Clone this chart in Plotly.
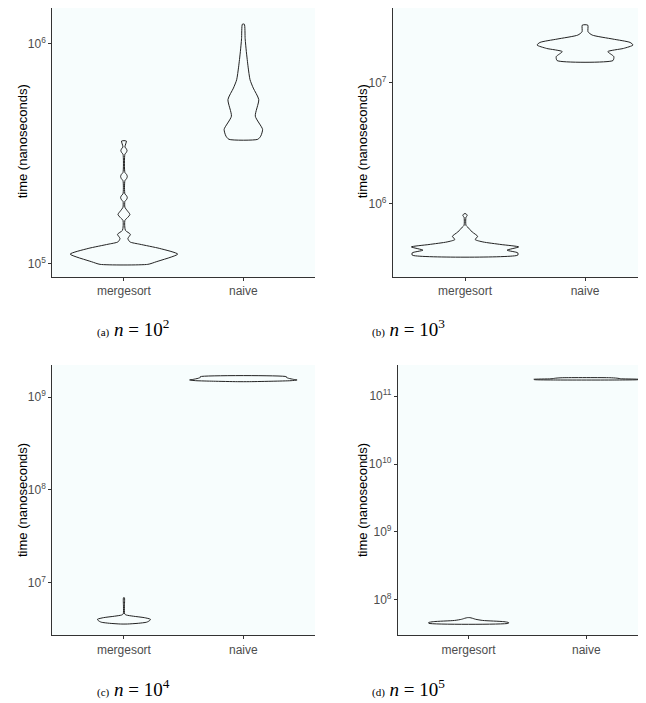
import plotly.graph_objects as go

# ---------------- data ----------------
categories = ["mergesort", "naive"]

# violin outlines: time levels (ns) and half-widths (category units)
a_merge_t = [99000, 101700, 110200, 116900, 122200, 125200, 129700, 135600, 141400,
             156800, 161500, 166900, 173000, 180000,
             191600, 195000, 199200, 203000, 207000,
             237600, 242900, 248500, 253700, 259000,
             313600, 319500, 325600, 331800, 338200, 360000]
a_merge_w = [0.20, 0.27, 0.45, 0.30, 0.133, 0.05, 0.033, 0.054, 0.012,
             0.008, 0.03, 0.05, 0.03, 0.008,
             0.008, 0.022, 0.028, 0.022, 0.008,
             0.008, 0.022, 0.028, 0.022, 0.008,
             0.008, 0.02, 0.026, 0.02, 0.008, 0.02]
a_naive_t = [366500, 379300, 406700, 467000, 555400, 626600, 683600, 780000, 917600, 1050000, 1223000]
a_naive_w = [0.121, 0.146, 0.161, 0.10, 0.129, 0.083, 0.056, 0.04, 0.025, 0.015, 0.008]

b_merge_t = [377900, 394700, 415100, 441700, 462200, 485300, 507700, 540400, 586000,
             643600, 664500, 777000, 790000, 802200, 815000, 828300]
b_merge_w = [0.44, 0.44, 0.35, 0.447, 0.30, 0.15, 0.085, 0.105, 0.06,
             0.022, 0.008, 0.008, 0.015, 0.018, 0.015, 0.008]
b_naive_t = [15140000, 16320000, 17930000, 19050000, 20320000, 21360000, 22750000,
             24550000, 26120000, 29630000]
b_naive_w = [0.233, 0.24, 0.19, 0.32, 0.40, 0.375, 0.233, 0.06, 0.025, 0.023]

c_merge_t = [3585000, 3650000, 3750000, 3900000, 4030000, 4200000, 4350000, 4480000,
             4600000, 5500000, 6887000]
c_merge_w = [0.03, 0.12, 0.19, 0.215, 0.222, 0.17, 0.08, 0.02, 0.006, 0.004, 0.004]
c_naive_t = [1473e6, 1490e6, 1510e6, 1537e6, 1560e6, 1600e6, 1640e6, 1668e6]
c_naive_w = [0.05, 0.25, 0.40, 0.45, 0.42, 0.38, 0.36, 0.36]

d_merge_t = [45.4e6, 46.5e6, 48.0e6, 50.0e6, 52.0e6, 54.0e6, 55.0e6]
d_merge_w = [0.338, 0.34, 0.30, 0.12, 0.06, 0.03, 0.01]
d_naive_t = [172e9, 174e9, 176e9, 179e9, 183e9, 185.7e9]
d_naive_w = [0.26, 0.44, 0.446, 0.30, 0.26, 0.20]

# y tick values and labels
a_ticks = [1e5, 1e6]
a_ticklabels = ["10<sup>5</sup>", "10<sup>6</sup>"]
b_ticks = [1e6, 1e7]
b_ticklabels = ["10<sup>6</sup>", "10<sup>7</sup>"]
c_ticks = [1e7, 1e8, 1e9]
c_ticklabels = ["10<sup>7</sup>", "10<sup>8</sup>", "10<sup>9</sup>"]
d_ticks = [1e8, 1e9, 1e10, 1e11]
d_ticklabels = ["10<sup>8</sup>", "10<sup>9</sup>", "10<sup>10</sup>", "10<sup>11</sup>"]

caption_letters = ["(a)", "(b)", "(c)", "(d)"]
caption_exponents = ["2", "3", "4", "5"]

y_title = "time (nanoseconds)"

# ---------------- layout geometry (pixels in the 646x703 window) ----------------
OFF = 8                      # default page margin of the browser body
W, H = 646 - OFF, 703 - OFF  # figure size so that it fits the window exactly
panels = [
    dict(m=(a_merge_t, a_merge_w), n=(a_naive_t, a_naive_w), ticks=a_ticks, labels=a_ticklabels,
         px=(52.3, 315), py=(6, 276.7), xr=(0.4, 2.6), yr=(4.9395, 6.161),
         title_x=22, cap_x=133, cap_y=328),
    dict(m=(b_merge_t, b_merge_w), n=(b_naive_t, b_naive_w), ticks=b_ticks, labels=b_ticklabels,
         px=(393, 646), py=(6, 276.7), xr=(0.4, 2.508), yr=(5.3998, 7.613),
         title_x=362, cap_x=408, cap_y=328),
    dict(m=(c_merge_t, c_merge_w), n=(c_naive_t, c_naive_w), ticks=c_ticks, labels=c_ticklabels,
         px=(52.3, 315), py=(365, 635), xr=(0.4, 2.6), yr=(6.436, 9.348),
         title_x=22, cap_x=133, cap_y=688),
    dict(m=(d_merge_t, d_merge_w), n=(d_naive_t, d_naive_w), ticks=d_ticks, labels=d_ticklabels,
         px=(398, 646), py=(365, 635), xr=(0.4, 2.507), yr=(7.485, 11.456),
         title_x=362, cap_x=408, cap_y=688),
]


def fx(px):
    return min(1.0, max(0.0, (px - OFF) / W))


def fy(py):
    return min(1.0, max(0.0, 1 - (py - OFF) / H))


fig = go.Figure()
layout = {}
annotations = []
line_col = "#333333"
tick_font = dict(family="Liberation Sans, Arial, sans-serif", size=12, color="#4D4D4D")

for i, p in enumerate(panels):
    sfx = "" if i == 0 else str(i + 1)
    xa, ya = "x" + sfx, "y" + sfx
    for center, (t, w) in zip([1, 2], [p["m"], p["n"]]):
        xs = [center + v for v in w] + [center - v for v in reversed(w)] + [center + w[0]]
        ys = list(t) + list(reversed(t)) + [t[0]]
        fig.add_trace(go.Scatter(
            x=xs, y=ys, mode="lines", fill="toself", fillcolor="rgba(255,255,255,0)",
            line=dict(color="#222222", width=1, shape="spline", smoothing=0.6),
            xaxis=xa, yaxis=ya, hoverinfo="skip", showlegend=False))

    x0, x1 = p["px"]
    y0, y1 = p["py"]
    layout["xaxis" + sfx] = dict(
        domain=[fx(x0), fx(x1)], range=list(p["xr"]), anchor=ya,
        tickmode="array", tickvals=[1, 2], ticktext=categories,
        ticks="outside", ticklen=3, tickcolor=line_col, tickwidth=1,
        showline=True, linecolor=line_col, linewidth=1.2,
        showgrid=False, zeroline=False, tickfont=tick_font, fixedrange=True)
    layout["yaxis" + sfx] = dict(
        domain=[fy(y1), fy(y0)], type="log", range=list(p["yr"]), anchor=xa,
        tickmode="array", tickvals=p["ticks"], ticktext=p["labels"],
        ticks="outside", ticklen=3, tickcolor=line_col, tickwidth=1,
        showline=True, linecolor=line_col, linewidth=1.2,
        showgrid=False, zeroline=False, tickfont=tick_font, fixedrange=True)

    annotations.append(dict(
        text=y_title, textangle=-90, xref="paper", yref="paper",
        x=fx(p["title_x"]), y=fy((y0 + y1) / 2), showarrow=False,
        xanchor="center", yanchor="middle",
        font=dict(family="Liberation Sans, Arial, sans-serif", size=13, color="#000000")))
    annotations.append(dict(
        text="<span style='font-size:11px'>" + caption_letters[i] + "</span> <i>n</i> = 10<sup>"
             + caption_exponents[i] + "</sup>",
        xref="paper", yref="paper", x=fx(p["cap_x"]), y=fy(p["cap_y"]),
        showarrow=False, xanchor="center", yanchor="middle",
        font=dict(family="Liberation Serif, serif", size=19, color="#000000")))

fig.update_layout(
    width=W, height=H, margin=dict(l=0, r=0, t=0, b=0),
    paper_bgcolor="white", plot_bgcolor="#F7FDFD",
    annotations=annotations, showlegend=False, **layout)

fig.write_html("out.html")
